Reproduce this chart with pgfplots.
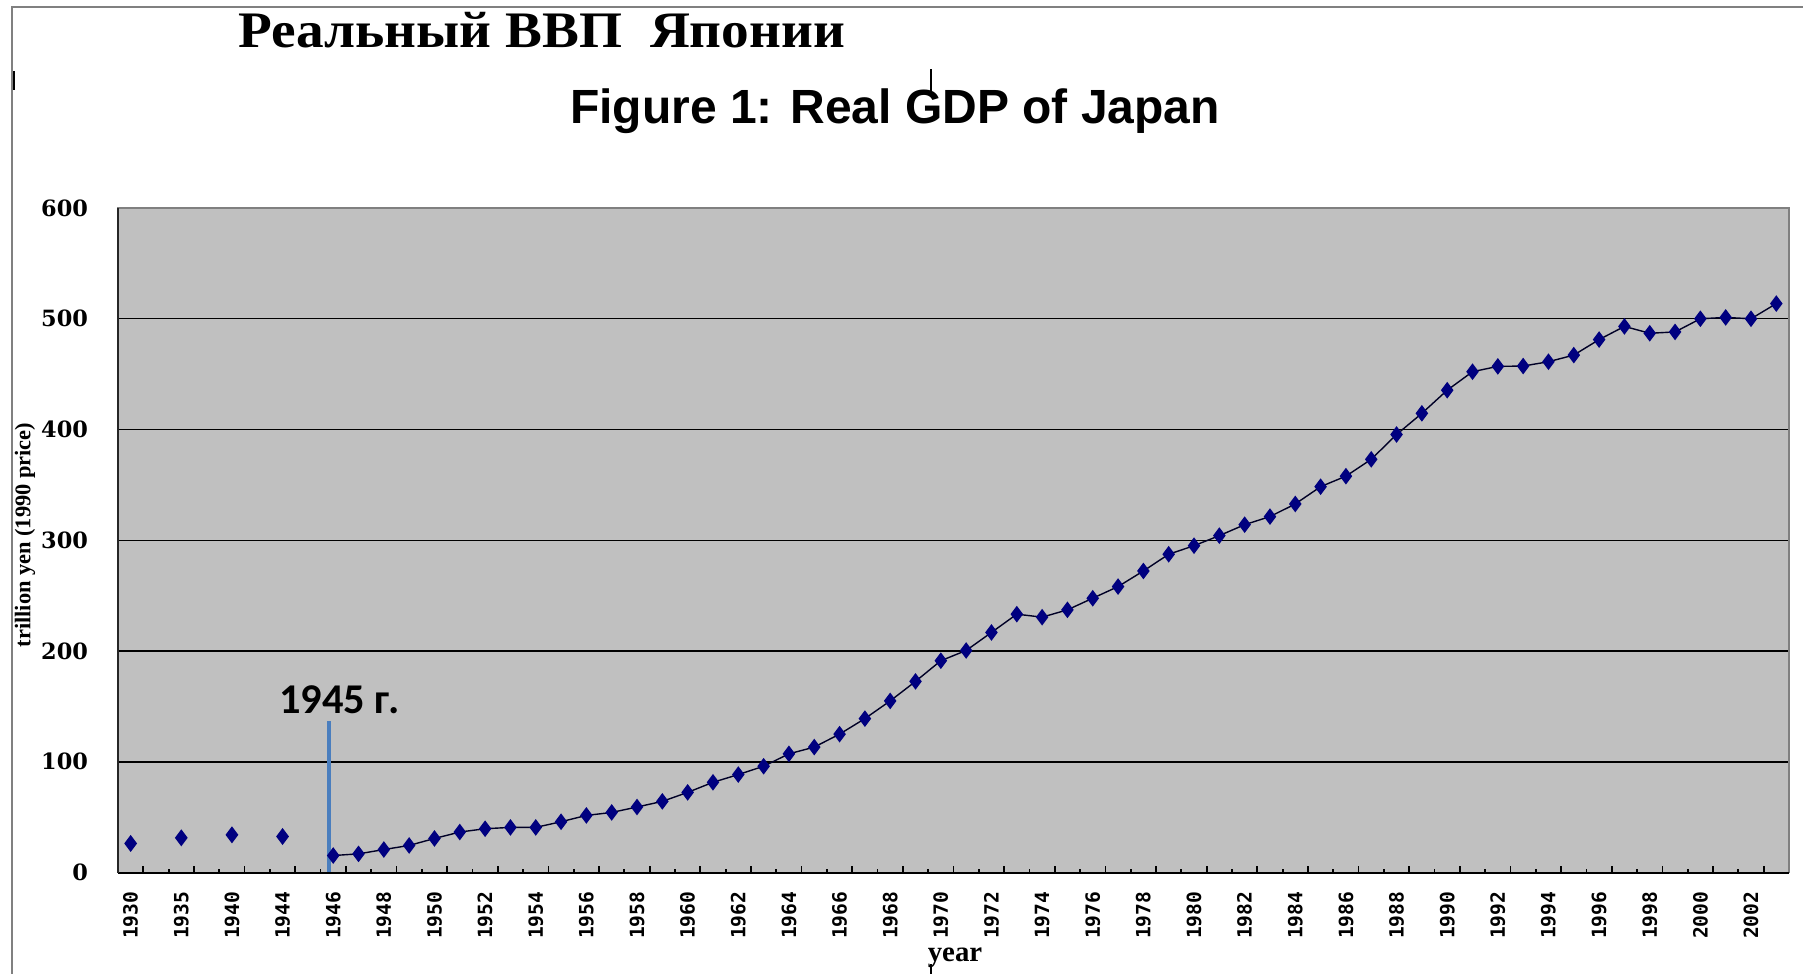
\documentclass[border=0pt]{standalone}
\usepackage{pgfplots}
\pgfplotsset{compat=1.18}
\usepackage{fontspec}
\setmainfont{Liberation Serif}
\newfontfamily\sansfont{Liberation Sans}
\newfontfamily\califont{Carlito}
\newfontfamily\monofont{DejaVu Sans Mono}
\newfontfamily\dvserif{DejaVu Serif}
\definecolor{plotbg}{RGB}{192,192,192}
\definecolor{mk}{RGB}{0,0,128}
\definecolor{vline}{RGB}{74,126,190}
\definecolor{frame}{RGB}{128,128,128}
\begin{document}
\begin{tikzpicture}
\useasboundingbox (0,0) rectangle (450.75pt,243.5pt);
\fill[white] (0,0) rectangle (450.75pt,243.5pt);
\draw[frame, line width=0.5pt] (2.9pt,0) -- (2.9pt,241.75pt) -- (450.75pt,241.75pt);
% titles
\node[anchor=base, font=\bfseries\fontsize{12.8}{14}\selectfont, xscale=1.08] at (135.5pt,231.5pt) {Реальный ВВП\ \ Японии};
\node[anchor=base, font=\sansfont\bfseries\fontsize{12}{14}\selectfont] at (223.75pt,212.5pt) {Figure 1: Real GDP of Japan};
% small marks
\draw[black, line width=0.7pt] (3.5pt,221pt) -- (3.5pt,225.75pt);
\draw[black, line width=0.4pt] (232.75pt,220.5pt) -- (232.75pt,226.25pt);
\draw[black, line width=0.4pt] (232.75pt,0pt) -- (232.75pt,2.5pt);
% axis labels
\node[font=\bfseries\fontsize{7.2}{8}\selectfont] at (238.75pt,4pt) {year};
\node[rotate=90, font=\bfseries\fontsize{5.6}{6}\selectfont] at (6.25pt,109.75pt) {trillion yen (1990 price)};
\begin{axis}[
  at={(29.5pt,25.35pt)}, anchor=south west,
  scale only axis, width=417.75pt, height=166.15pt,
  xmin=-0.5, xmax=65.5, ymin=0, ymax=600,
  axis background/.style={fill=plotbg},
  axis line style={draw=frame, line width=0.4pt},
  ytick={0,100,...,600},
  ymajorgrids, major grid style={black, line width=0.35pt},
  major y tick style={draw=none},
  tick align=inside,
  xtick pos=bottom, ytick pos=left,
  xtick={0,2,...,64},
  xticklabels={1930,1935,1940,1944,1946,1948,1950,1952,1954,1956,1958,1960,1962,1964,1966,1968,1970,1972,1974,1976,1978,1980,1982,1984,1986,1988,1990,1992,1994,1996,1998,2000,2002},
  major x tick style={draw=none},
  extra x ticks={0.5,2.5,...,64.5},
  extra x tick labels={},
  extra x tick style={major tick length=1.7pt, major x tick style={draw=black, line width=0.45pt}, grid=none},
  minor xtick={1.5,3.5,...,63.5},
  minor tick length=0.9pt,
  minor x tick style={draw=black, line width=0.45pt},
  /pgf/number format/assume math mode=true,
  yticklabel style={font=\dvserif\bfseries\fontsize{5.6}{6}\selectfont, anchor=east, inner sep=0pt, xshift=-7.3pt},
  xticklabel style={font=\monofont\bfseries\fontsize{4.9}{5}\selectfont, rotate=90, anchor=east, inner sep=0pt},
  xticklabel shift=4.6pt,
  clip=false,
]
\addplot[vline, line width=1pt] coordinates {(7.85,0) (7.85,137)};
\addplot[only marks, mark=diamond*, mark size=1.8pt, mark options={fill=mk, draw=mk}] coordinates {
(0,26.3) (2,31.4) (4,34.1) (6,32.6)};
\addplot[draw=black!70!mk, line width=0.35pt, mark=diamond*, mark size=1.8pt, mark options={fill=mk, draw=mk}] table {
x y
8 15.4
9 16.9
10 20.8
11 24.5
12 30.8
13 36.6
14 39.6
15 40.8
16 40.8
17 45.9
18 51.6
19 54.3
20 59.2
21 64.3
22 72.4
23 81.5
24 88.5
25 96.0
26 107.2
27 113.3
28 125.0
29 139.0
30 155.0
31 172.6
32 191.3
33 200.5
34 216.8
35 233.3
36 230.6
37 237.2
38 247.7
39 258.2
40 272.3
41 287.4
42 295.1
43 304.2
44 314.1
45 321.4
46 332.8
47 348.4
48 357.9
49 373.1
50 395.5
51 414.6
52 435.5
53 452.2
54 457.0
55 457.3
56 461.2
57 467.2
58 481.2
59 493.1
60 486.9
61 488.1
62 500.0
63 501.2
64 500.0
65 513.7
};
\draw[black, line width=0.5pt] (rel axis cs:0,0) -- (rel axis cs:1,0);
\draw[black!85, line width=0.4pt] (rel axis cs:0,0) -- (rel axis cs:0,1);
\node[font=\califont\bfseries\fontsize{10.6}{12}\selectfont] at (axis cs:8.24,155.6) {1945 г.};
\end{axis}
\end{tikzpicture}
\end{document}
